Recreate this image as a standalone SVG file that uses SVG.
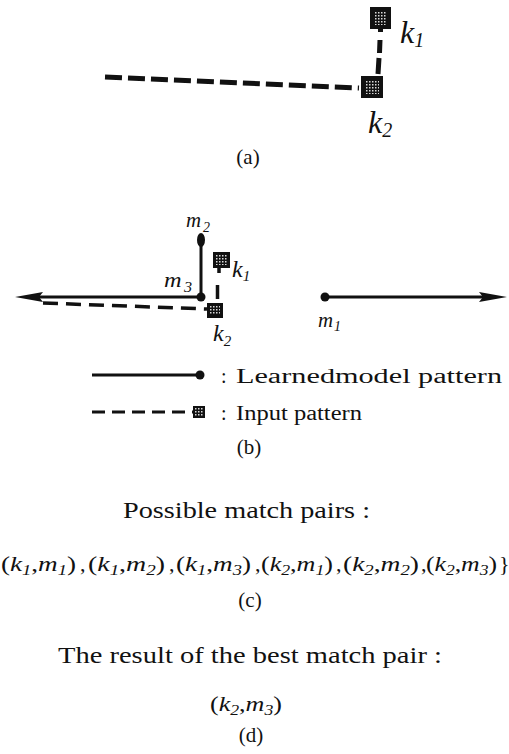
<svg xmlns="http://www.w3.org/2000/svg" width="509" height="754" viewBox="0 0 509 754" font-family="'Liberation Serif', 'Times New Roman', serif">
<defs>
<pattern id="speckle" width="3" height="3" patternUnits="userSpaceOnUse">
<rect width="3" height="3" fill="#111"/>
<rect x="0" y="0" width="1.5" height="1.5" fill="#d8d8d8"/>
</pattern>
<marker id="arrow" markerUnits="userSpaceOnUse" markerWidth="30" markerHeight="12" refX="13" refY="5" orient="auto">
<path d="M0,0 L28,5 L0,10 L4,5 z" fill="#111"/>
</marker>
<style>
text { font-family: "Liberation Serif", "Times New Roman", serif; fill: #111; }
.it { font-style: italic; }
.sq { fill: #111; }
.sqin { fill: url(#speckle); }
.dashA { stroke: #111; stroke-width: 5; fill: none; stroke-dasharray: 17 6; }
.dashB { stroke: #111; stroke-width: 3.5; fill: none; stroke-dasharray: 15 8; }
.dashL { stroke: #111; stroke-width: 3; fill: none; stroke-dasharray: 13 7; }
.stubA { stroke: #111; stroke-width: 5; fill: none; }
.stubB { stroke: #111; stroke-width: 3.5; fill: none; }
.solid { stroke: #111; stroke-width: 3; fill: none; }
.dot { fill: #111; }
.cap { font-size: 21px; text-anchor: middle; }
.big { font-size: 23px; }
.pair { font-size: 22px; }
.sub { font-size: 15px; }
</style>
</defs>
<rect width="509" height="754" fill="#fff"/>

<g id="connectors">
<line class="dashA" x1="105" y1="77" x2="359" y2="88"/>
<path class="stubA" d="M380.5,28 V32 M380,40 L379.5,53 M379,58 L378,74"/>
<line class="solid" x1="201" y1="240" x2="201" y2="297"/>
<line class="solid" x1="201" y1="297" x2="30" y2="297" marker-end="url(#arrow)"/>
<line class="solid" x1="325" y1="297" x2="492" y2="297" marker-end="url(#arrow)"/>
<line class="dashB" x1="43" y1="303" x2="207" y2="309"/>
<path class="stubB" d="M219,267 V273 M217.5,285 V299"/>
</g>

<g id="k1a">
<rect class="sq" x="370" y="7" width="21" height="22"/>
<rect class="sqin" x="374" y="11" width="13" height="14"/>
<text x="400" y="43" font-size="32" class="it">k<tspan class="it" font-size="20" dy="4">1</tspan></text>
</g>
<g id="k2a">
<rect class="sq" x="361" y="76" width="22" height="22"/>
<rect class="sqin" x="365" y="80" width="14" height="14"/>
<text x="368" y="133" font-size="32" class="it">k<tspan class="it" font-size="20" dy="4">2</tspan></text>
</g>
<text x="248" y="164" class="cap">(a)</text>

<g id="m2">
<ellipse class="dot" cx="201" cy="240" rx="4" ry="7"/>
<text x="186" y="227" font-size="21" class="it" textLength="24" lengthAdjust="spacingAndGlyphs">m<tspan font-size="14" dx="2" dy="5">2</tspan></text>
</g>
<g id="m3">
<circle class="dot" cx="201" cy="297" r="4.5"/>
<text x="164" y="287" font-size="21" class="it" textLength="28" lengthAdjust="spacingAndGlyphs">m<tspan font-size="14" dx="2" dy="5">3</tspan></text>
</g>
<g id="m1">
<circle class="dot" cx="325" cy="297" r="4.5"/>
<text x="318" y="327" font-size="21" class="it" textLength="23" lengthAdjust="spacingAndGlyphs">m<tspan font-size="14" dx="1" dy="4">1</tspan></text>
</g>
<g id="k1b">
<rect class="sq" x="213" y="252" width="17" height="16"/>
<rect class="sqin" x="216" y="255" width="11" height="10"/>
<text x="232" y="277" font-size="24" class="it">k<tspan font-size="15" dy="4">1</tspan></text>
</g>
<g id="k2b">
<rect class="sq" x="207" y="303" width="16" height="15"/>
<rect class="sqin" x="210" y="306" width="10" height="9"/>
<text x="213" y="341" font-size="24" class="it">k<tspan font-size="15" dy="5">2</tspan></text>
</g>

<g id="legend">
<line class="solid" x1="92" y1="375" x2="200" y2="375"/>
<circle class="dot" cx="200" cy="375" r="4.5"/>
<line class="dashL" x1="92" y1="412" x2="193" y2="412"/>
<rect class="sq" x="193" y="406" width="12" height="12"/>
<rect class="sqin" x="195" y="408" width="8" height="8"/>
<text x="221" y="383" font-size="20">:</text>
<text x="236" y="383" font-size="20" textLength="266" lengthAdjust="spacingAndGlyphs">Learnedmodel pattern</text>
<text x="221" y="420" font-size="20">:</text>
<text x="236" y="420" font-size="20" textLength="126" lengthAdjust="spacingAndGlyphs">Input pattern</text>
</g>
<text x="249" y="454" class="cap">(b)</text>

<text x="123" y="518" class="big" textLength="247" lengthAdjust="spacingAndGlyphs">Possible match pairs :</text>

<g id="pairs" class="pair">
<text x="1" y="571" textLength="75" lengthAdjust="spacingAndGlyphs">(<tspan class="it">k</tspan><tspan class="it sub" dy="4">1</tspan><tspan dy="-4">,</tspan><tspan class="it">m</tspan><tspan class="it sub" dy="4">1</tspan><tspan dy="-4">)</tspan></text>
<text x="80" y="571">,</text>
<text x="88" y="571" textLength="77" lengthAdjust="spacingAndGlyphs">(<tspan class="it">k</tspan><tspan class="it sub" dy="4">1</tspan><tspan dy="-4">,</tspan><tspan class="it">m</tspan><tspan class="it sub" dy="4">2</tspan><tspan dy="-4">)</tspan></text>
<text x="169" y="571">,</text>
<text x="176" y="571" textLength="75" lengthAdjust="spacingAndGlyphs">(<tspan class="it">k</tspan><tspan class="it sub" dy="4">1</tspan><tspan dy="-4">,</tspan><tspan class="it">m</tspan><tspan class="it sub" dy="4">3</tspan><tspan dy="-4">)</tspan></text>
<text x="255" y="571">,</text>
<text x="261" y="571" textLength="72" lengthAdjust="spacingAndGlyphs">(<tspan class="it">k</tspan><tspan class="it sub" dy="4">2</tspan><tspan dy="-4">,</tspan><tspan class="it">m</tspan><tspan class="it sub" dy="4">1</tspan><tspan dy="-4">)</tspan></text>
<text x="336" y="571">,</text>
<text x="343" y="571" textLength="76" lengthAdjust="spacingAndGlyphs">(<tspan class="it">k</tspan><tspan class="it sub" dy="4">2</tspan><tspan dy="-4">,</tspan><tspan class="it">m</tspan><tspan class="it sub" dy="4">2</tspan><tspan dy="-4">)</tspan></text>
<text x="421" y="571">,</text>
<text x="426" y="571" textLength="71" lengthAdjust="spacingAndGlyphs">(<tspan class="it">k</tspan><tspan class="it sub" dy="4">2</tspan><tspan dy="-4">,</tspan><tspan class="it">m</tspan><tspan class="it sub" dy="4">3</tspan><tspan dy="-4">)</tspan></text>
<text x="499" y="571">}</text>
</g>
<text x="250" y="607" class="cap">(c)</text>

<text x="58" y="663" class="big" textLength="384" lengthAdjust="spacingAndGlyphs">The result of the best match pair :</text>
<text x="210" y="711" class="pair" textLength="72" lengthAdjust="spacingAndGlyphs">(<tspan class="it">k</tspan><tspan class="it sub" dy="4">2</tspan><tspan dy="-4">,</tspan><tspan class="it">m</tspan><tspan class="it sub" dy="4">3</tspan><tspan dy="-4">)</tspan></text>
<text x="251" y="742" class="cap">(d)</text>
</svg>
